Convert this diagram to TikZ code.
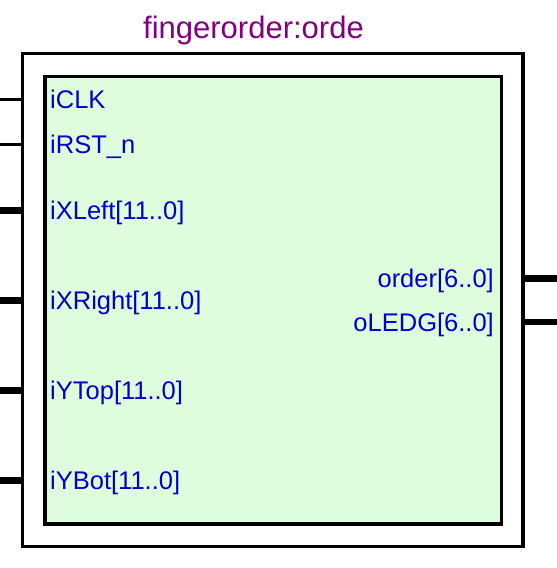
\documentclass[tikz,border=0pt]{standalone}
\usepackage{fontspec}
\setmainfont{Liberation Sans}
\definecolor{blockfill}{RGB}{221,253,221}
\definecolor{portblue}{RGB}{0,0,200}
\definecolor{titlepurple}{RGB}{128,0,128}
\tikzset{
  pinthin/.style={line width=2.5pt},
  pinbus/.style={line width=6.5pt},
  portin/.style={anchor=base west, inner sep=0pt, text=portblue, font=\fontsize{25.5}{29}\selectfont},
  portout/.style={anchor=base east, inner sep=0pt, text=portblue, font=\fontsize{25.5}{29}\selectfont},
}
\begin{document}
\begin{tikzpicture}[x=1pt,y=-1pt]
\useasboundingbox (0,0) rectangle (557,568);
\node[anchor=base, text=titlepurple, font=\fontsize{31}{35}\selectfont] (title) at (253.5,38) {fingerorder:orde}; %label
\node[draw, line width=3.5pt, minimum width=500.5pt, minimum height=493pt, inner sep=0pt] (outer) at (272.75,299.75) {};
\node[draw, fill=blockfill, line width=3.5pt, minimum width=456.5pt, minimum height=447.5pt, inner sep=0pt] (inner) at (273.25,300.25) {};
% input pins
\coordinate (clkpin) at (0,99.5);
\coordinate (rstpin) at (0,144.5);
\coordinate (xleftpin) at (0,210.5);
\coordinate (xrightpin) at (0,300.5);
\coordinate (ytoppin) at (0,390.5);
\coordinate (ybotpin) at (0,480.5);
\draw[pinthin] (clkpin) -- (clkpin -| outer.west);
\draw[pinthin] (rstpin) -- (rstpin -| outer.west);
\draw[pinbus] (xleftpin) -- ([xshift=3pt]xleftpin -| outer.west);
\draw[pinbus] (xrightpin) -- ([xshift=3pt]xrightpin -| outer.west);
\draw[pinbus] (ytoppin) -- ([xshift=3pt]ytoppin -| outer.west);
\draw[pinbus] (ybotpin) -- ([xshift=3pt]ybotpin -| outer.west);
% output pins
\coordinate (orderpin) at (557,278.5);
\coordinate (oledgpin) at (557,322);
\draw[pinbus] ([xshift=-3pt]orderpin -| outer.east) -- (orderpin);
\draw[pinbus] ([xshift=-3pt]oledgpin -| outer.east) -- (oledgpin);
% port names
\node[portin] (clk) at (50,108.5) {iCLK}; %label
\node[portin] (rstn) at (50,153.5) {iRST\_n}; %label
\node[portin] (xleft) at (50,219.5) {iXLeft[11..0]}; %label
\node[portin] (xright) at (50,309.5) {iXRight[11..0]}; %label
\node[portin] (ytop) at (50,399.5) {iYTop[11..0]}; %label
\node[portin] (ybot) at (50,489.5) {iYBot[11..0]}; %label
\node[portout] (order) at (494,287.5) {order[6..0]}; %label
\node[portout] (oledg) at (494,331.5) {oLEDG[6..0]}; %label
\end{tikzpicture}
\end{document}
